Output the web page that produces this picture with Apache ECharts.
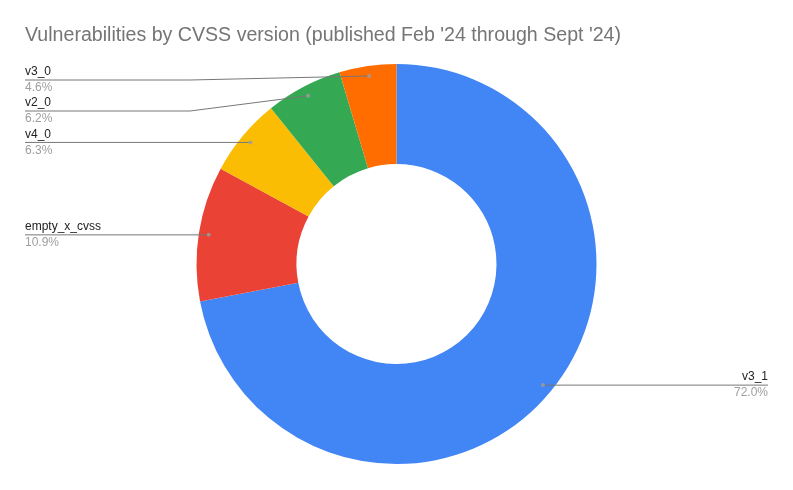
<!DOCTYPE html>
<html>
<head>
<meta charset="utf-8">
<script src="https://cdn.jsdelivr.net/npm/echarts@6/dist/echarts.min.js"></script>
<style>html,body{margin:0;padding:0;background:#fff}#c{width:793px;height:490px}</style>
</head>
<body>
<div id="c"></div>
<script>
const titleText = "Vulnerabilities by CVSS version (published Feb '24 through Sept '24)";
const categories = ['v3_1', 'empty_x_cvss', 'v4_0', 'v2_0', 'v3_0'];
const values = [72.0, 10.9, 6.3, 6.2, 4.6];
const colors = ['#4285F4', '#EA4335', '#FBBC04', '#34A853', '#FF6D01'];

const FONT = "'Liberation Sans', Arial, sans-serif";
const W = 793, H = 490;
const OUTER = 200, INNER = 100, DOT_R = 190;
const TOP = 64, BOTTOM = 26;
const CX = W / 2, CY = TOP + (H - TOP - BOTTOM) / 2;
const EDGE = 25, BEND = 190, LABEL_GAP = 31, LINE_H = 16;

const chart = echarts.init(document.getElementById('c'), null, {renderer: 'canvas'});

// mid-angle of each slice (percent of the circle, clockwise from 12 o'clock)
const total = values.reduce((a, b) => a + b, 0);
let acc = 0;
const midPct = values.map(v => { const m = acc + v / 2; acc += v; return m / total * 100; });
const dotData = midPct.map(m => [DOT_R, m]);

// label placement computed from the slice geometry
const dots = midPct.map(m => {
  const a = m / 100 * 2 * Math.PI;
  return [CX + DOT_R * Math.sin(a), CY - DOT_R * Math.cos(a)];
});
const labelY = dots.map(d => d[1]);
function spread(idx) {
  idx.sort((a, b) => dots[a][1] - dots[b][1]);
  let prev = TOP + LINE_H - LABEL_GAP;
  idx.forEach(i => { const y = Math.max(dots[i][1], prev + LABEL_GAP); labelY[i] = y; prev = y; });
}
spread(dots.map((d, i) => i).filter(i => dots[i][0] < CX));
spread(dots.map((d, i) => i).filter(i => dots[i][0] >= CX));

function leaderPoints(i) {
  const d = dots[i];
  const isLeft = d[0] < CX;
  const y = labelY[i];
  const endX = isLeft ? EDGE : W - EDGE;
  const bendX = isLeft ? Math.min(BEND, d[0]) : Math.max(W - BEND, d[0]);
  return [[d[0], d[1]], [bendX, y], [endX, y]];
}

const option = {
  animation: false,
  title: {
    text: titleText,
    left: 25, top: 26, padding: 0,
    textStyle: {fontFamily: FONT, fontSize: 19.6, fontWeight: 'normal', color: '#757575'}
  },
  color: colors,
  polar: {center: [CX, CY], radius: OUTER},
  angleAxis: {
    type: 'value', min: 0, max: 100, startAngle: 90, clockwise: true,
    axisLine: {show: false}, axisTick: {show: false}, axisLabel: {show: false}, splitLine: {show: false}
  },
  radiusAxis: {
    type: 'value', min: 0, max: OUTER,
    axisLine: {show: false}, axisTick: {show: false}, axisLabel: {show: false}, splitLine: {show: false}
  },
  series: [{
    type: 'pie',
    left: 0, right: 0, top: TOP, bottom: BOTTOM,
    center: ['50%', '50%'],
    radius: [INNER, OUTER],
    startAngle: 90,
    clockwise: true,
    z: 1,
    data: categories.map((c, i) => ({name: c, value: values[i]})),
    itemStyle: {borderWidth: 0},
    label: {
      show: true,
      position: 'outside',
      fontFamily: FONT,
      formatter: p => '{n|' + p.name + '}\n{p|' + p.percent.toFixed(1) + '%}',
      rich: {
        n: {fontFamily: FONT, fontSize: 12, color: '#222222', lineHeight: LINE_H},
        p: {fontFamily: FONT, fontSize: 12, color: '#9e9e9e', lineHeight: LINE_H}
      }
    },
    labelLine: {show: false},
    labelLayout: function (params) {
      const i = params.dataIndex;
      const isLeft = dots[i][0] < CX;
      return {
        x: isLeft ? EDGE : W - EDGE,
        y: labelY[i],
        align: isLeft ? 'left' : 'right',
        verticalAlign: 'middle'
      };
    }
  }, {
    type: 'custom',
    coordinateSystem: 'none',
    z: 4,
    silent: true,
    data: categories.map((c, i) => i),
    renderItem: function (params, api) {
      return {
        type: 'polyline',
        shape: {points: leaderPoints(params.dataIndex)},
        style: {stroke: '#777777', lineWidth: 1, fill: null}
      };
    }
  }, {
    type: 'scatter',
    coordinateSystem: 'polar',
    data: dotData,
    symbol: 'circle',
    symbolSize: 4,
    z: 5,
    silent: true,
    itemStyle: {color: '#9e9e9e'}
  }]
};
chart.setOption(option);
</script>
</body>
</html>
